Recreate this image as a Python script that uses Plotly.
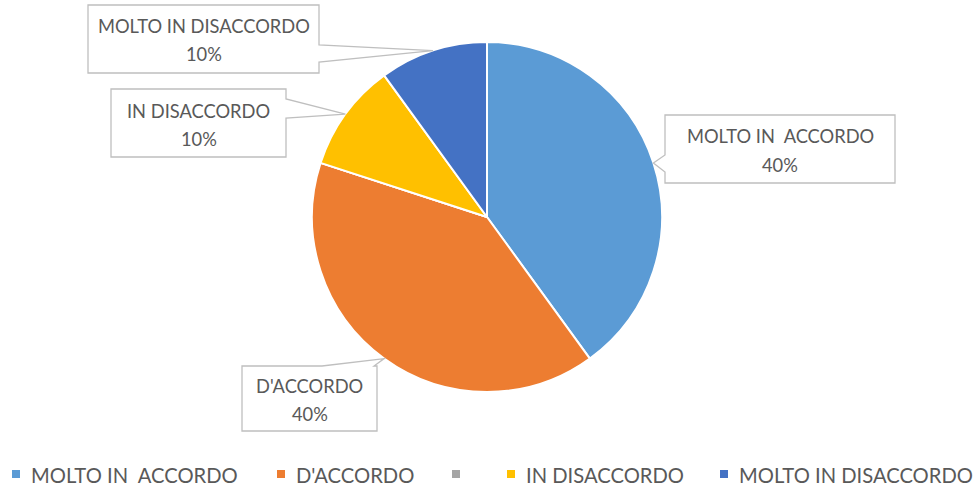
import math
import plotly.graph_objects as go

# data
labels = ["MOLTO IN  ACCORDO", "D'ACCORDO", "", "IN DISACCORDO", "MOLTO IN DISACCORDO"]
values = [40, 40, 0, 10, 10]
colors = ["#5B9BD5", "#ED7D31", "#A5A5A5", "#FFC000", "#4472C4"]

W, H = 978, 489
TXT = "#595959"
BOX = "#BFBFBF"
FONT = "Lato"

# pie geometry in pixels
CX, CY, R = 487, 217, 175


def px(x, y):
    return x / W, 1 - y / H


def disp(s):
    return s.replace("  ", "\u00a0 ")


fig = go.Figure()
fig.add_trace(go.Pie(
    labels=[l if l else " " for l in labels], values=values,
    marker=dict(colors=colors, line=dict(color="white", width=2)),
    sort=False, direction="clockwise", rotation=0,
    textinfo="none", hoverinfo="label+percent", showlegend=False,
    domain=dict(x=[(CX - R) / W, (CX + R) / W], y=[1 - (CY + R) / H, 1 - (CY - R) / H]),
))

# callout boxes: label -> (x0, y0, x1, y1, side, wedge a, wedge b)
callouts = {
    "MOLTO IN  ACCORDO": (665, 115, 895, 183, "left", 155, 172),
    "D'ACCORDO": (242, 366, 377, 431, "top", 322, 374),
    "IN DISACCORDO": (111, 89, 286, 157, "right", 99, 118),
    "MOLTO IN DISACCORDO": (88, 5, 319, 73, "right", 45, 62),
}

total = sum(values)
shapes, annotations = [], []
cum = 0
for lab, v in zip(labels, values):
    mid = (cum + v / 2) / total * 2 * math.pi
    cum += v
    if lab not in callouts:
        continue
    tx, ty = CX + R * math.sin(mid), CY - R * math.cos(mid)
    x0, y0, x1, y1, side, a, b = callouts[lab]
    if side == "right":
        pts = [(x0, y0), (x1, y0), (x1, a), (tx, ty), (x1, b), (x1, y1), (x0, y1)]
    elif side == "left":
        pts = [(x0, y0), (x1, y0), (x1, y1), (x0, y1), (x0, b), (tx, ty), (x0, a)]
    else:
        pts = [(x0, y0), (a, y0), (tx, ty), (b, y0), (x1, y0), (x1, y1), (x0, y1)]
    pp = [px(*p) for p in pts]
    path = "M " + " L ".join(f"{p[0]:.5f},{p[1]:.5f}" for p in pp) + " Z"
    shapes.append(dict(type="path", xref="paper", yref="paper", path=path,
                       fillcolor="white", line=dict(color=BOX, width=1.3)))
    cx, cy = (x0 + x1) / 2, (y0 + y1) / 2
    pct = f"{round(v / total * 100)}%"
    for txt, yy in [(disp(lab), cy - 12.5), (pct, cy + 15.5)]:
        ax_, ay_ = px(cx, yy)
        annotations.append(dict(x=ax_, y=ay_, xref="paper", yref="paper", text=txt,
                                showarrow=False, xanchor="center", yanchor="middle",
                                font=dict(family=FONT, size=18.3, color=TXT)))

# legend drawn manually to match spacing
legend_x = [12, 277, 452, 507, 720]
LY = 474
for lab, col, lx in zip(labels, colors, legend_x):
    x0, y0 = px(lx, LY - 4)
    x1, y1 = px(lx + 8, LY + 4)
    shapes.append(dict(type="rect", xref="paper", yref="paper", x0=x0, x1=x1, y0=y0, y1=y1,
                       fillcolor=col, line=dict(width=0)))
    if lab:
        ax_, ay_ = px(lx + 17, LY + 0.5)
        annotations.append(dict(x=ax_, y=ay_, xref="paper", yref="paper", text=disp(lab),
                                showarrow=False, xanchor="left", yanchor="middle",
                                font=dict(family=FONT, size=20.2, color=TXT)))

fig.update_layout(
    width=W, height=H, margin=dict(l=0, r=0, t=0, b=0),
    paper_bgcolor="white", plot_bgcolor="white",
    shapes=shapes, annotations=annotations, showlegend=False,
)

fig.write_html("out.html", config={"displayModeBar": False},
               post_script="document.body.style.margin='0';")
